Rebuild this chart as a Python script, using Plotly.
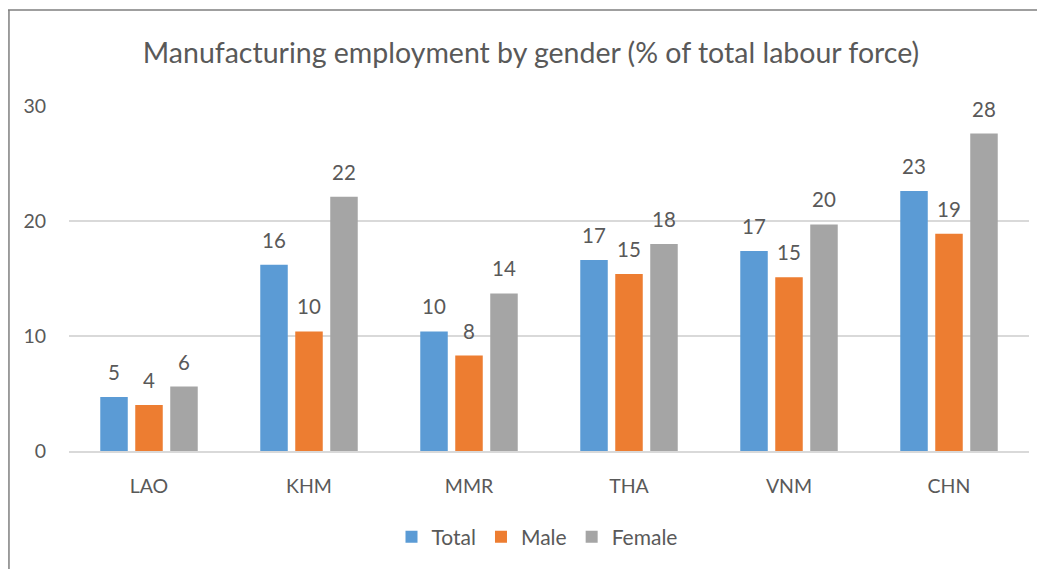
import plotly.graph_objects as go

categories = ["LAO", "KHM", "MMR", "THA", "VNM", "CHN"]
total = [4.7, 16.2, 10.4, 16.6, 17.4, 22.6]
male = [4.0, 10.4, 8.3, 15.4, 15.1, 18.9]
female = [5.6, 22.1, 13.7, 18.0, 19.7, 27.6]
y_ticks = [0, 10, 20, 30]

series = [("Total", total, "#5B9BD5"), ("Male", male, "#ED7D31"), ("Female", female, "#A5A5A5")]
FONT = "Lato"
GREY = "#595959"

OFF = 8  # page body margin
W, H = 1045 - OFF, 569 - OFF
L, R, T, B = 69 - OFF, 16, 106 - OFF, 118
pw, ph = W - L - R, H - T - B
BARGAP, GROUPGAP = 0.344, 0.214
slot = pw / len(categories) * (1 - BARGAP) / len(series)

def px(x):
    return (x - OFF - L) / pw

def py(y):
    return (H - B - (y - OFF)) / ph

fig = go.Figure()
annotations = []
for i, (name, vals, col) in enumerate(series):
    fig.add_trace(go.Bar(x=categories, y=vals, name=name, marker_color=col, marker_line_width=0))
    for c, v in zip(categories, vals):
        annotations.append(dict(
            x=c, y=v, text=f"{v:.0f}", showarrow=False, xref="x", yref="y",
            xanchor="center", yanchor="bottom", xshift=(i - 1) * slot, yshift=11,
            font=dict(family=FONT, size=20.5, color=GREY),
        ))

fig.update_layout(
    width=W, height=H,
    margin=dict(l=L, r=R, t=T, b=B, autoexpand=False),
    plot_bgcolor="white", paper_bgcolor="white",
    barmode="group", bargap=BARGAP, bargroupgap=GROUPGAP,
    title=dict(text="Manufacturing employment by gender (% of total labour force)",
               x=(531 - OFF) / W, xanchor="center", y=1 - (53 - OFF) / H, yanchor="middle",
               font=dict(family=FONT, size=28.5, color=GREY)),
    xaxis=dict(showgrid=False, showline=True, linecolor="#D9D9D9", linewidth=1.5,
               ticks="", ticklabelstandoff=17, tickfont=dict(family=FONT, size=19.5, color=GREY)),
    yaxis=dict(range=[0, 30], tickvals=y_ticks, showgrid=True, gridcolor="#D9D9D9",
               gridwidth=1.5, zeroline=False, showline=False, ticks="", ticklabelstandoff=22,
               tickfont=dict(family=FONT, size=19.5, color=GREY)),
    legend=dict(orientation="h", x=px(537), xanchor="center", y=py(537), yanchor="middle",
                font=dict(family=FONT, size=21, color=GREY), traceorder="normal"),
    showlegend=True,
    annotations=annotations,
)

fig.add_shape(type="line", xref="paper", yref="paper", x0=-L / pw + 0.001, x1=-L / pw + 0.001,
              y0=py(10), y1=py(580), line=dict(color="#7F7F7F", width=1.5))
fig.add_shape(type="line", xref="paper", yref="paper", x0=-L / pw, x1=px(1050), y0=py(10), y1=py(10),
              line=dict(color="#7F7F7F", width=1.5))

fig.write_html("out.html")
